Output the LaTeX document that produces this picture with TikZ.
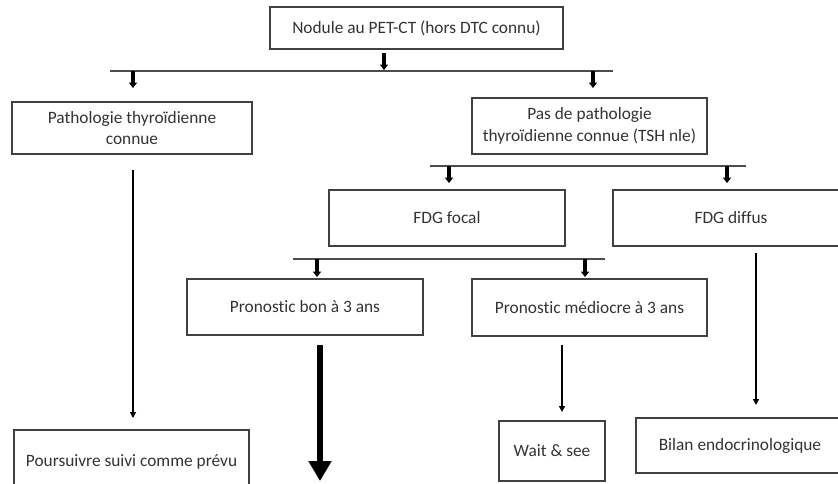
\documentclass[tikz,border=0pt]{standalone}
\usepackage{fontspec}
\setmainfont{Carlito}[RawFeature=-liga]
\usetikzlibrary{arrows.meta}
\begin{document}
\begin{tikzpicture}[x=0.75pt,y=-0.75pt,
  box/.style={draw=black!75,line width=0.8pt,inner sep=2pt,align=center,
    font=\fontsize{13}{16}\selectfont,text=black!80},
  hline/.style={draw=black!70,line width=0.9pt},
  shortarr/.style={draw=black,line width=2.8pt,-{Triangle[width=6pt,length=4pt]}},
  thinarr/.style={draw=black,line width=1.1pt,-{Triangle[width=4.5pt,length=4.5pt]}},
  bigarr/.style={draw=black,line width=5.2pt,-{Triangle[width=16.5pt,length=15pt]}}]
\clip (0,0) rectangle (838,483);
\fill[white] (0,0) rectangle (838,483);

\node[box,minimum width=293*0.75pt,minimum height=42*0.75pt] (top) at (416.5,28) {Nodule au PET-CT (hors DTC connu)};
\node[box,minimum width=240*0.75pt,minimum height=52*0.75pt] (patho) at (132,128) {Pathologie thyroïdienne\\connue};
\node[box,minimum width=235*0.75pt,minimum height=56*0.75pt] (pas) at (589.5,126) {Pas de pathologie\\thyroïdienne connue (TSH nle)};
\node[box,minimum width=236*0.75pt,minimum height=56*0.75pt] (focal) at (447,218) {FDG focal};
\node[box,minimum width=236*0.75pt,minimum height=56*0.75pt] (diffus) at (731,218) {FDG diffus};
\node[box,minimum width=236*0.75pt,minimum height=56*0.75pt] (bon) at (305,307) {Pronostic bon à 3 ans};
\node[box,minimum width=235*0.75pt,minimum height=57*0.75pt] (medio) at (589.5,307.5) {Pronostic médiocre à 3 ans};
\node[box,minimum width=235*0.75pt,minimum height=64*0.75pt] (pours) at (131.5,462) {Poursuivre suivi comme prévu};
\node[box,minimum width=106*0.75pt,minimum height=60*0.75pt] (wait) at (552,451) {Wait \& see};
\node[box,minimum width=208*0.75pt,minimum height=55*0.75pt] (bilan) at (740,445.5) {Bilan endocrinologique};

% branch lines
\coordinate (h1l) at (110,71); \coordinate (h1r) at (613,71);
\draw[hline] (h1l) -- (h1r);
\coordinate (h2l) at (430,166); \coordinate (h2r) at (746,166);
\draw[hline] (h2l) -- (h2r);
\coordinate (h3l) at (293,259); \coordinate (h3r) at (605,259);
\draw[hline] (h3l) -- (h3r);

% short arrows
\coordinate (a0s) at (384,53); \coordinate (a0e) at (384,70);
\draw[shortarr] (a0s) -- (a0e);
\coordinate (a1s) at (133,71); \coordinate (a1e) at (133,88);
\draw[shortarr] (a1s) -- (a1e);
\coordinate (a2s) at (593,71); \coordinate (a2e) at (593,88);
\draw[shortarr] (a2s) -- (a2e);
\coordinate (a3s) at (449,166); \coordinate (a3e) at (449,183);
\draw[shortarr] (a3s) -- (a3e);
\coordinate (a4s) at (727,166); \coordinate (a4e) at (727,183);
\draw[shortarr] (a4s) -- (a4e);
\coordinate (a5s) at (317,259); \coordinate (a5e) at (317,277);
\draw[shortarr] (a5s) -- (a5e);
\coordinate (a6s) at (585,259); \coordinate (a6e) at (585,277);
\draw[shortarr] (a6s) -- (a6e);

% long thin arrows
\coordinate (b1s) at (133,170); \coordinate (b1e) at (133,418);
\draw[thinarr] (b1s) -- (b1e);
\coordinate (b2s) at (562,345); \coordinate (b2e) at (562,412);
\draw[thinarr] (b2s) -- (b2e);
\coordinate (b3s) at (756,253); \coordinate (b3e) at (756,405);
\draw[thinarr] (b3s) -- (b3e);

% big arrow
\coordinate (c1s) at (320,345); \coordinate (c1e) at (320,481);
\draw[bigarr] (c1s) -- (c1e);
\end{tikzpicture}
\end{document}
